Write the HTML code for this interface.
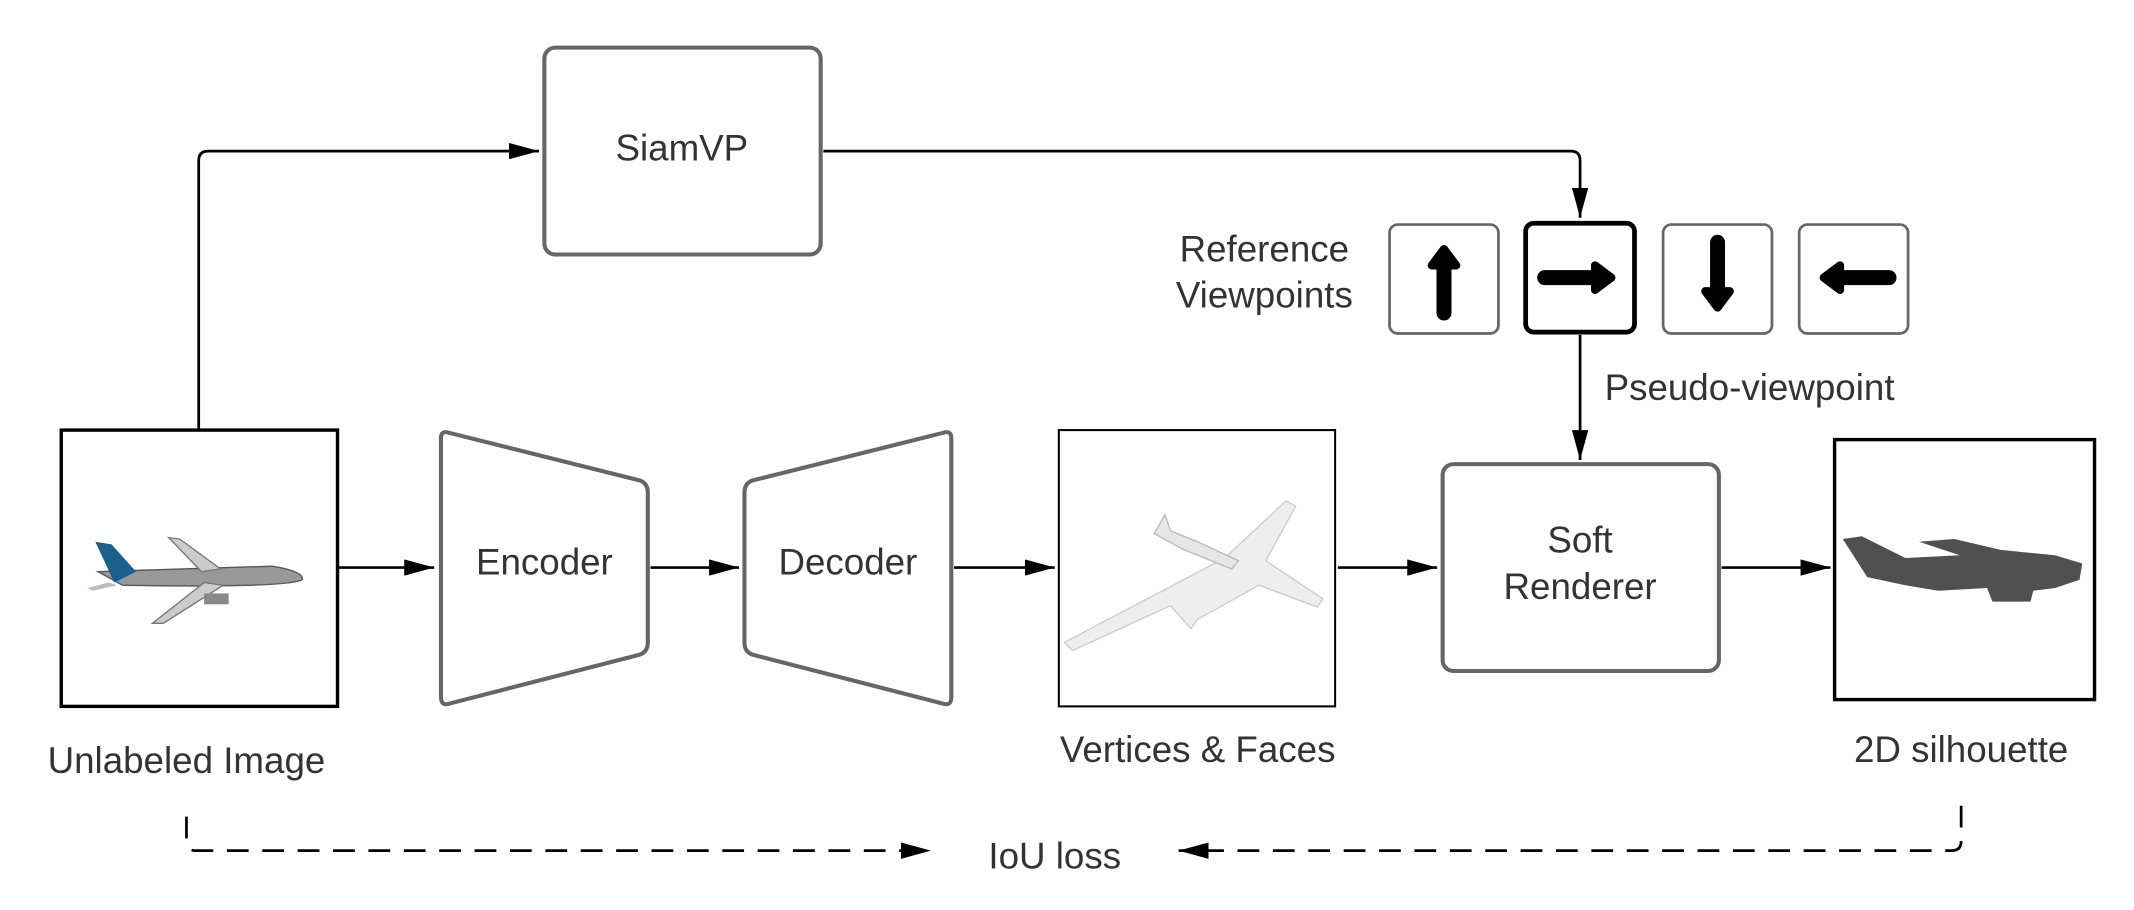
<!DOCTYPE html>
<html><head><meta charset="utf-8"><style>
html,body{margin:0;padding:0;background:#fff;}
svg{display:block;}
text{font-family:"Liberation Sans",sans-serif;fill:#333;}
</style></head><body>
<svg width="2134" height="910" viewBox="0 0 1568 668.6" preserveAspectRatio="none">
<defs>
<marker id="b" markerWidth="24" markerHeight="12" refX="22" refY="6" orient="auto" markerUnits="userSpaceOnUse"><path d="M0,0 L22,6 L0,12 Z" fill="#000"/></marker>
</defs>
<rect x="400" y="35" width="203" height="152" rx="8" fill="#fff" stroke="#666" stroke-width="3"/>
<text x="501" y="118" font-size="27" text-anchor="middle">SiamVP</text>
<path d="M146,316 V118 Q146,111 153,111 H396" fill="none" stroke="#000" stroke-width="2" marker-end="url(#b)"/>
<path d="M605,111 H1154 Q1161,111 1161,118 V160" fill="none" stroke="#000" stroke-width="2" marker-end="url(#b)"/>
<text x="929" y="192" font-size="27" text-anchor="middle">Reference</text>
<text x="929" y="226" font-size="27" text-anchor="middle">Viewpoints</text>
<rect x="1021" y="165" width="80" height="80" rx="6" fill="#fff" stroke="#666" stroke-width="2"/>
<rect x="1121" y="164" width="80" height="80" rx="6" fill="#fff" stroke="#000" stroke-width="3.5"/>
<rect x="1222" y="165" width="80" height="80" rx="6" fill="#fff" stroke="#666" stroke-width="2"/>
<rect x="1322" y="165" width="80" height="80" rx="6" fill="#fff" stroke="#666" stroke-width="2"/>
<g stroke="#000" stroke-width="11" stroke-linecap="round" stroke-linejoin="round" fill="#000">
<line x1="1061" y1="230" x2="1061" y2="195"/><path d="M1052,195 L1061,183 L1070,195 Z" stroke-width="6"/>
<line x1="1135" y1="204" x2="1172" y2="204"/><path d="M1172,195 L1184,204 L1172,213 Z" stroke-width="6"/>
<line x1="1262" y1="178" x2="1262" y2="214"/><path d="M1253,214 L1262,226 L1271,214 Z" stroke-width="6"/>
<line x1="1388" y1="204" x2="1352" y2="204"/><path d="M1352,195 L1340,204 L1352,213 Z" stroke-width="6"/>
</g>
<line x1="1161" y1="246" x2="1161" y2="338" stroke="#000" stroke-width="2" marker-end="url(#b)"/>
<text x="1179" y="294" font-size="27">Pseudo-viewpoint</text>
<rect x="45" y="316" width="203" height="203" fill="#fff" stroke="#000" stroke-width="2.5"/>
<g>
<path d="M72,420 L200,416 Q224,420 222,426 Q210,432 90,430 Z" fill="#999" stroke="#555"/>
<path d="M70,398 L82,400 L100,420 L84,428 Z" fill="#1c5f8a"/>
<path d="M124,395 L132,396 L162,418 L148,420 Z" fill="#ccc" stroke="#777"/>
<path d="M112,458 L120,458 L164,430 L150,428 Z" fill="#ccc" stroke="#777"/>
<path d="M64,432 L80,428 L86,430 L68,434Z" fill="#bbb"/>
<rect x="150" y="436" width="18" height="8" fill="#888"/>
</g>
<text x="137" y="568" font-size="27" text-anchor="middle">Unlabeled Image</text>
<line x1="248" y1="417" x2="319" y2="417" stroke="#000" stroke-width="2" marker-end="url(#b)"/>
<path d="M324,322 Q324,316 330,318 L470,353 Q476,355 476,362 V472 Q476,479 470,481 L330,517 Q324,519 324,512 Z" fill="#fff" stroke="#666" stroke-width="3"/>
<text x="400" y="422" font-size="27" text-anchor="middle">Encoder</text>
<line x1="478" y1="417" x2="543" y2="417" stroke="#000" stroke-width="2" marker-end="url(#b)"/>
<path d="M699,322 Q699,316 693,318 L553,353 Q547,355 547,362 V472 Q547,479 553,481 L693,517 Q699,519 699,512 Z" fill="#fff" stroke="#666" stroke-width="3"/>
<text x="623" y="422" font-size="27" text-anchor="middle">Decoder</text>
<line x1="701" y1="417" x2="775" y2="417" stroke="#000" stroke-width="2" marker-end="url(#b)"/>
<rect x="778" y="316" width="203" height="203" fill="#fff" stroke="#000" stroke-width="1.5"/>
<path d="M782,472 L900,410 L945,368 L952,372 L930,412 L972,440 L968,446 L925,430 L880,455 L875,462 L860,445 L788,478 Z" fill="#eee" stroke="#ccc"/>
<path d="M848,392 L856,378 L860,390 L880,398 L910,412 L905,418 L870,404 Z" fill="#e6e6e6" stroke="#bbb"/>
<text x="880" y="560" font-size="27" text-anchor="middle">Vertices &amp; Faces</text>
<line x1="983" y1="417" x2="1056" y2="417" stroke="#000" stroke-width="2" marker-end="url(#b)"/>
<rect x="1060" y="341" width="203" height="152" rx="8" fill="#fff" stroke="#666" stroke-width="3"/>
<text x="1161" y="406" font-size="27" text-anchor="middle">Soft</text>
<text x="1161" y="440" font-size="27" text-anchor="middle">Renderer</text>
<line x1="1265" y1="417" x2="1345" y2="417" stroke="#000" stroke-width="2" marker-end="url(#b)"/>
<rect x="1348" y="323" width="191" height="191" fill="#fff" stroke="#000" stroke-width="2.5"/>
<path d="M1354,396 L1368,394 L1400,410 L1440,408 L1410,398 L1436,396 L1470,404 L1510,408 L1530,414 L1528,426 L1510,432 L1494,434 L1492,442 L1464,442 L1460,432 L1424,434 L1400,430 L1372,424 Z" fill="#505050"/>
<text x="1441" y="560" font-size="27" text-anchor="middle">2D silhouette</text>
<path d="M137,600 V618 Q137,625 144,625 H684" fill="none" stroke="#000" stroke-width="2" stroke-dasharray="16,10" marker-end="url(#b)"/>
<path d="M1441,592 V618 Q1441,625 1434,625 H866" fill="none" stroke="#000" stroke-width="2" stroke-dasharray="16,10" marker-end="url(#b)"/>
<text x="775" y="638" font-size="27" text-anchor="middle">IoU loss</text>
</svg>
</body></html>
